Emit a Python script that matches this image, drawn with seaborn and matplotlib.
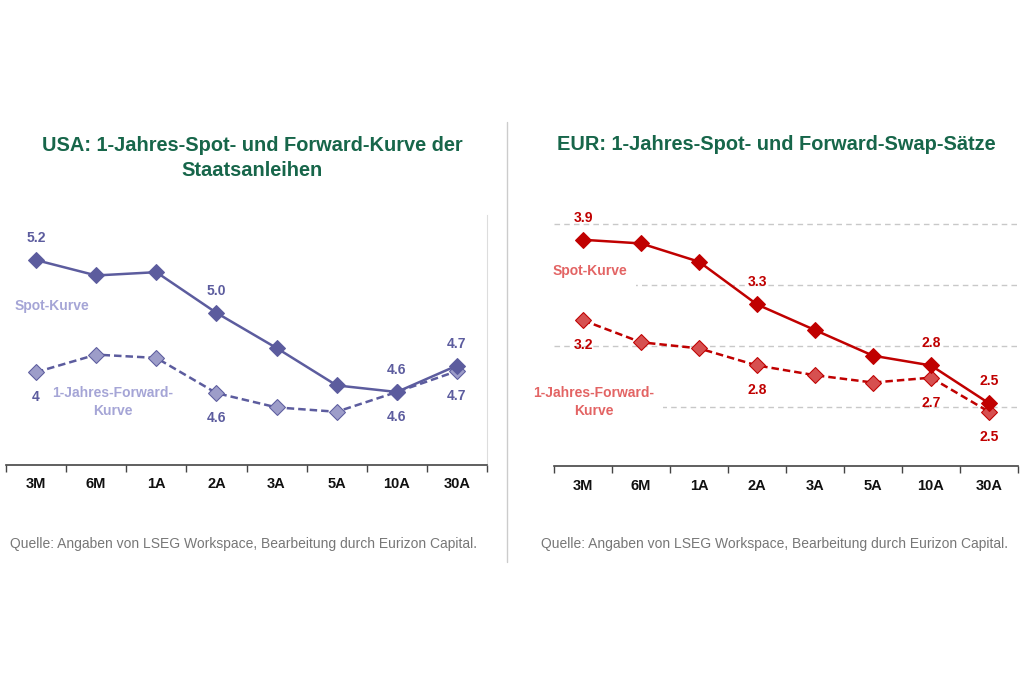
import numpy as np
import pandas as pd
import seaborn as sns
import matplotlib.pyplot as plt
from matplotlib.lines import Line2D

sns.set_style('white')
plt.rcParams['font.family'] = ['Liberation Sans', 'DejaVu Sans']

# data
tenors = ['3M', '6M', '1A', '2A', '3A', '5A', '10A', '30A']

usa_spot = [5.20, 5.13, 5.145, 4.96, 4.80, 4.63, 4.60, 4.72]
usa_fwd = [4.69, 4.77, 4.755, 4.595, 4.53, 4.51, 4.60, 4.695]
usa_spot_labels = {'3M': '5.2', '2A': '5.0', '10A': '4.6', '30A': '4.7'}
usa_fwd_labels = {'3M': '4', '2A': '4.6', '10A': '4.6', '30A': '4.7'}

eur_spot = [3.87, 3.84, 3.69, 3.34, 3.13, 2.92, 2.84, 2.53]
eur_fwd = [3.21, 3.03, 2.98, 2.84, 2.76, 2.70, 2.74, 2.46]
eur_spot_labels = {'3M': '3.9', '2A': '3.3', '10A': '2.8', '30A': '2.5'}
eur_fwd_labels = {'3M': '3.2', '2A': '2.8', '10A': '2.7', '30A': '2.5'}
eur_grid = [4.0, 3.5, 3.0, 2.5]

title_col = '#17664a'
usa_col = '#5c5c9e'
usa_fwd_fill = '#9d9dc9'
usa_txt = '#a5a5d6'
eur_col = '#c00000'
eur_fwd_fill = '#d65050'
eur_txt = '#e36464'

fig = plt.figure(figsize=(10.24, 6.83), dpi=100)
ax1 = fig.add_axes([6 / 1024, 1 - 465 / 683, 481 / 1024, 250 / 683])
ax2 = fig.add_axes([554 / 1024, 1 - 466 / 683, 464 / 1024, 256 / 683])


def draw_panel(ax, spot, fwd, col, fill, spot_lab, fwd_lab):
    df = pd.DataFrame({'tenor': tenors, 'spot': spot, 'fwd': fwd})
    sns.lineplot(data=df, x='tenor', y='spot', ax=ax, sort=False, color=col,
                 lw=1.8, marker='D', markersize=8.5, markeredgecolor=col,
                 markerfacecolor=col, zorder=4)
    sns.lineplot(data=df, x='tenor', y='fwd', ax=ax, sort=False, color=col,
                 lw=1.8, linestyle=(0, (3, 1.6)), marker='D', markersize=8,
                 markeredgecolor=col, markerfacecolor=fill, zorder=3)
    for i, t in enumerate(tenors):
        if t in spot_lab:
            ax.annotate(spot_lab[t], (i, spot[i]), xytext=(0, 22),
                        textcoords='offset pixels', ha='center', va='center',
                        color=col, fontsize=10, fontweight='bold', zorder=6)
        if t in fwd_lab:
            ax.annotate(fwd_lab[t], (i, fwd[i]), xytext=(0, -25),
                        textcoords='offset pixels', ha='center', va='center',
                        color=col, fontsize=10, fontweight='bold', zorder=6)
    ax.set_xlim(-0.5, len(tenors) - 0.5)
    ax.set_xticks(range(len(tenors)))
    ax.set_xticklabels(tenors, fontsize=10.5, fontweight='bold', color='#111111')
    ax.set_xticks(np.arange(-0.5, len(tenors)), minor=True)
    ax.tick_params(axis='x', which='major', length=0, pad=9)
    ax.tick_params(axis='x', which='minor', length=5, width=1, color='#444444',
                   direction='out', bottom=True)
    ax.set_yticks([])
    ax.set_xlabel('')
    ax.set_ylabel('')
    for s in ['left', 'top', 'right']:
        ax.spines[s].set_visible(False)
    ax.spines['bottom'].set_color('#444444')
    ax.spines['bottom'].set_linewidth(1.2)


draw_panel(ax1, usa_spot, usa_fwd, usa_col, usa_fwd_fill,
           usa_spot_labels, usa_fwd_labels)
ax1.set_ylim(4.268, 5.405)
ax1.spines['right'].set_visible(True)
ax1.spines['right'].set_color('#dddddd')
ax1.text(0.27, 4.99, 'Spot-Kurve', ha='center', va='center', color=usa_txt,
         fontsize=10, fontweight='bold')
ax1.text(1.28, 4.555, '1-Jahres-Forward-\nKurve', ha='center', va='center',
         color=usa_txt, fontsize=10, fontweight='bold', linespacing=1.3)

draw_panel(ax2, eur_spot, eur_fwd, eur_col, eur_fwd_fill,
           eur_spot_labels, eur_fwd_labels)
ax2.set_ylim(2.016, 4.114)
for g in eur_grid:
    ax2.axhline(g, color='#c8c8c8', lw=1, ls=(0, (4, 3)), zorder=1)
ax2.text(0.12, 3.61, 'Spot-Kurve', ha='center', va='center', color=eur_txt,
         fontsize=10, fontweight='bold', zorder=2,
         bbox=dict(facecolor='white', edgecolor='none', pad=6))
ax2.text(0.19, 2.54, '1-Jahres-Forward-\nKurve', ha='center', va='center',
         color=eur_txt, fontsize=10, fontweight='bold', linespacing=1.3,
         zorder=2, bbox=dict(facecolor='white', edgecolor='none', pad=6))

fig.text(252 / 1024, 1 - 158 / 683,
         'USA: 1-Jahres-Spot- und Forward-Kurve der\nStaatsanleihen',
         ha='center', va='center', fontsize=14.4, fontweight='bold',
         color=title_col, linespacing=1.45)
fig.text(776 / 1024, 1 - 145 / 683, 'EUR: 1-Jahres-Spot- und Forward-Swap-Sätze',
         ha='center', va='center', fontsize=14.4, fontweight='bold',
         color=title_col)

src = 'Quelle: Angaben von LSEG Workspace, Bearbeitung durch Eurizon Capital.'
fig.text(10 / 1024, 1 - 544 / 683, src, ha='left', va='center', fontsize=10,
         color='#777777')
fig.text(541 / 1024, 1 - 544 / 683, src, ha='left', va='center', fontsize=10,
         color='#777777')

fig.add_artist(Line2D([507 / 1024, 507 / 1024], [1 - 122 / 683, 1 - 562 / 683],
                      transform=fig.transFigure, color='#cccccc', lw=1))

fig.savefig('out.png', dpi=100)
